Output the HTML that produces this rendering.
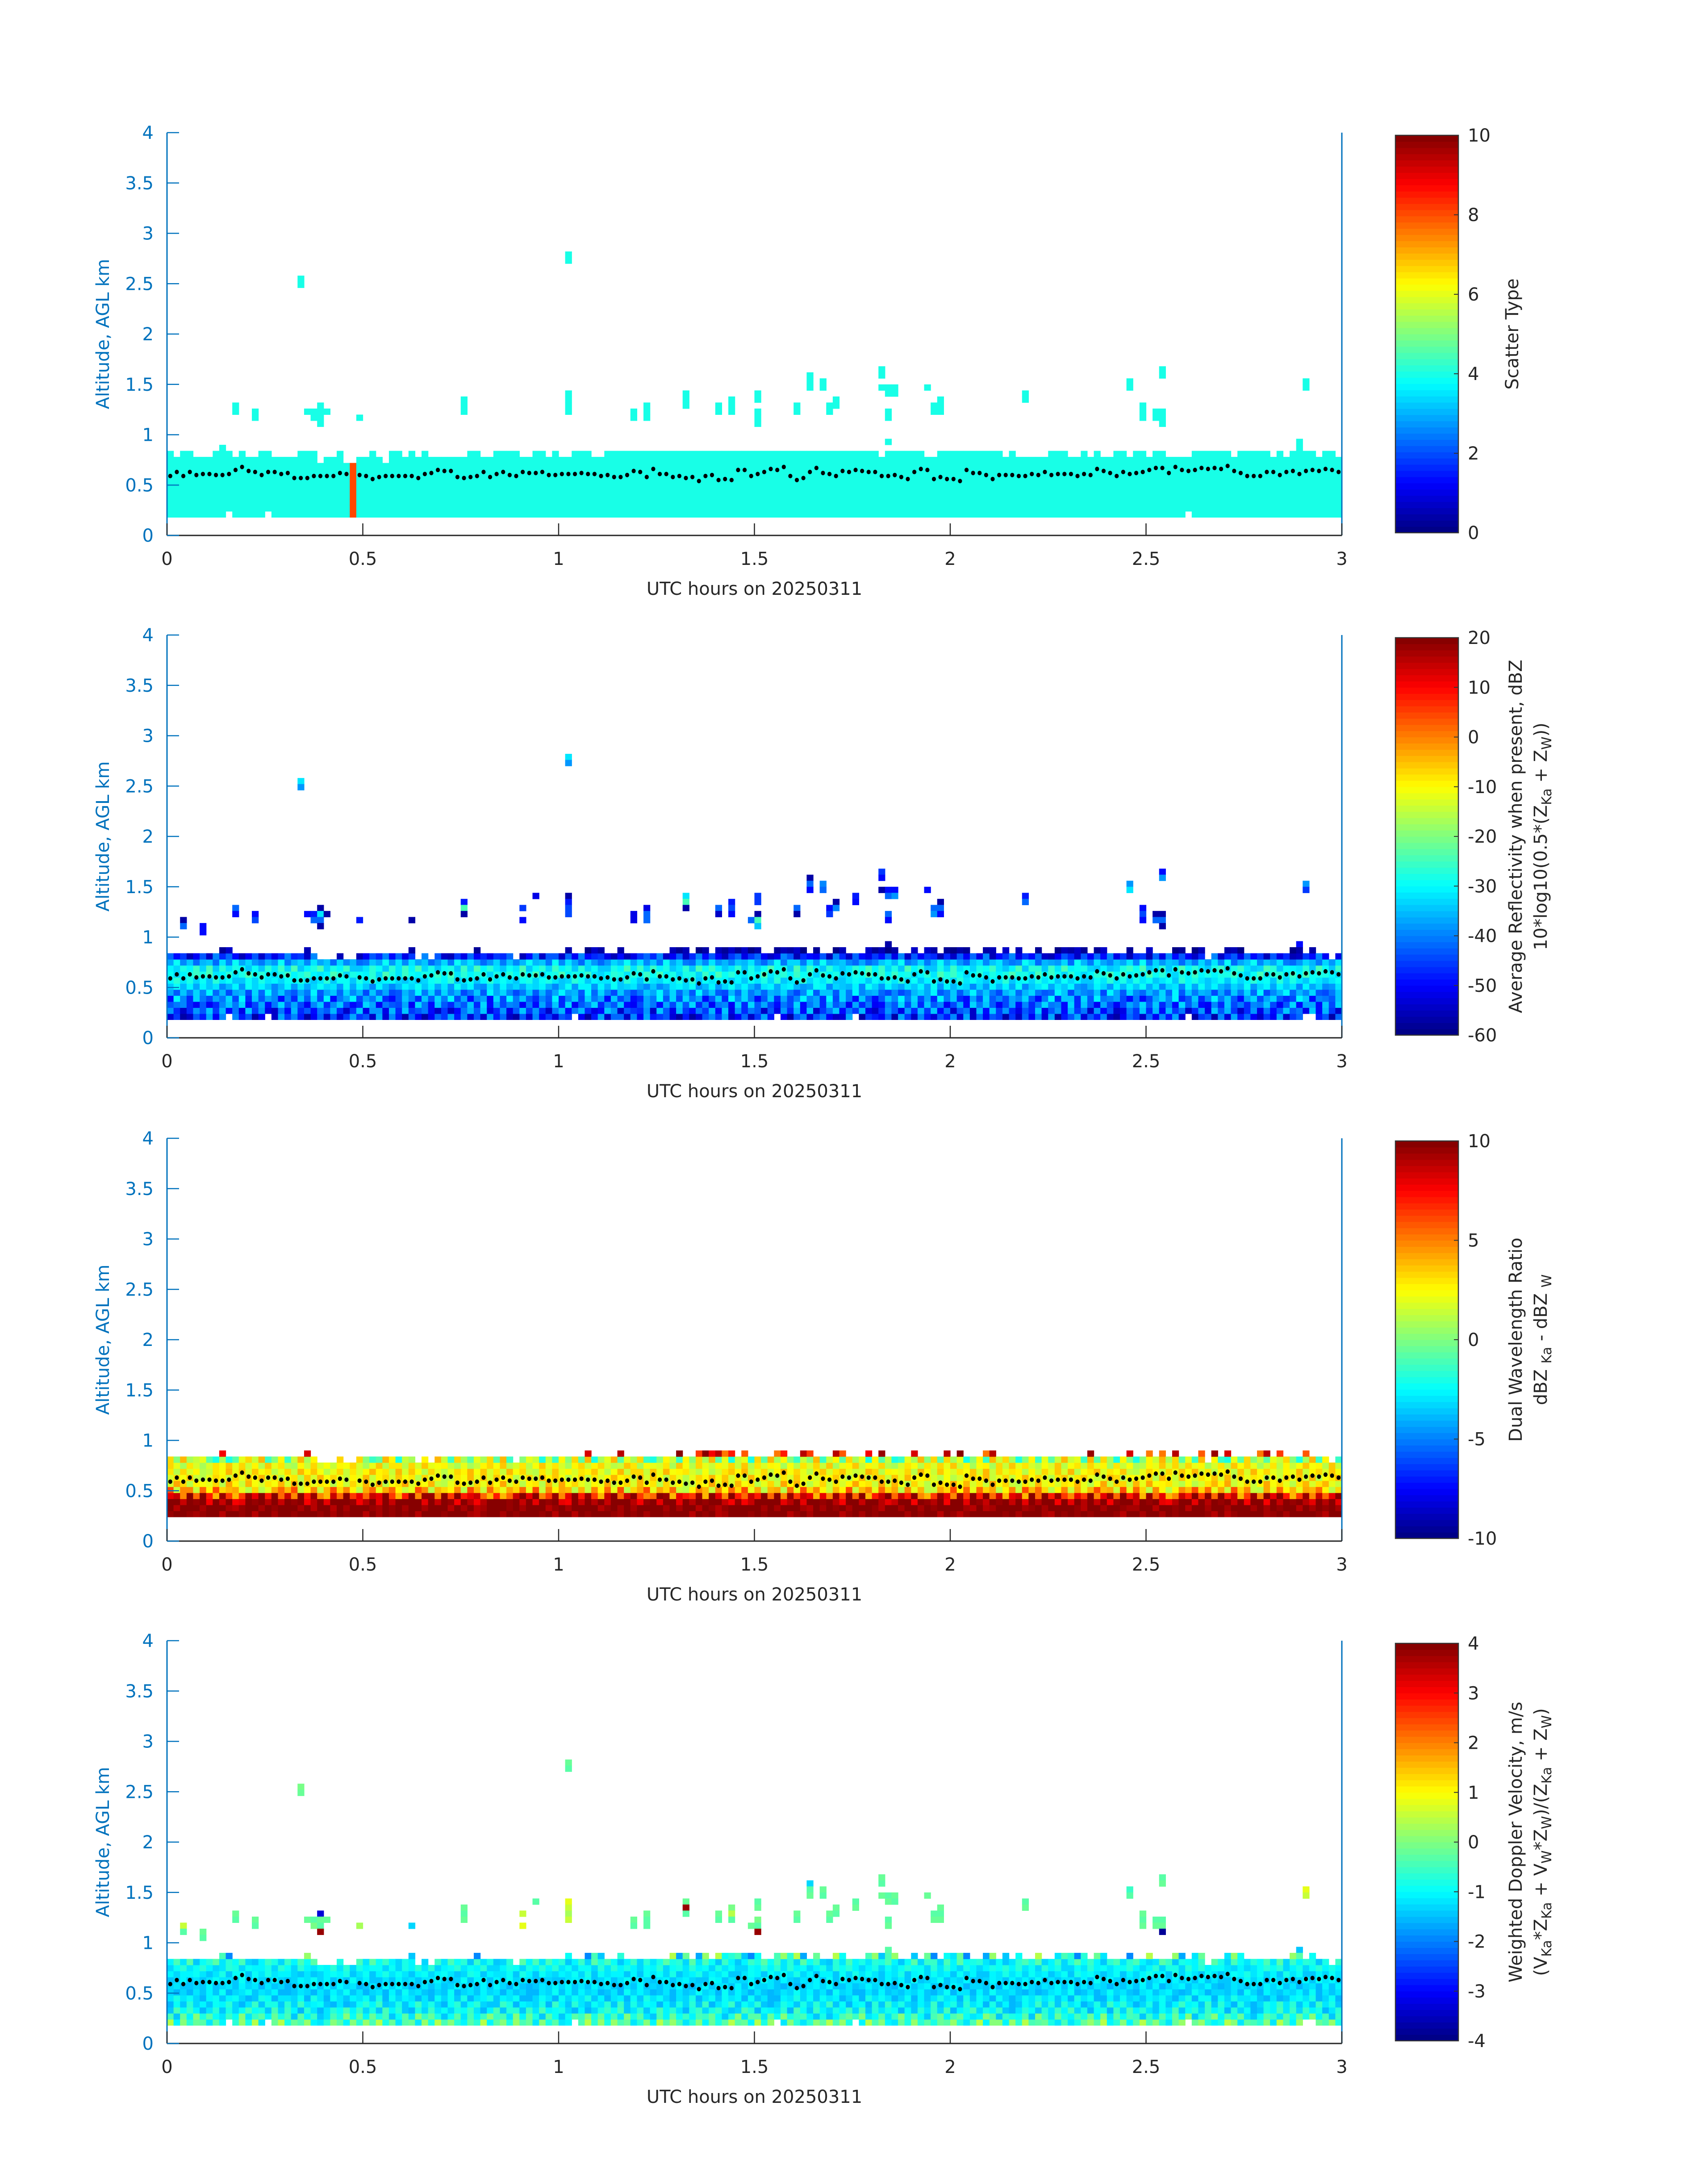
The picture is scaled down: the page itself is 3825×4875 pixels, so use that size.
<!DOCTYPE html>
<html><head><meta charset="utf-8"><style>
html,body{margin:0;padding:0;background:#fff;}
svg{display:block;font-family:"DejaVu Sans","Liberation Sans",sans-serif;}
</style></head><body>
<svg id="fig" xmlns="http://www.w3.org/2000/svg" width="3825" height="4875" viewBox="0 0 3825 4875">
<rect x="0" y="0" width="3825" height="4875" fill="#fff"/>
</svg>
<script>
// ---- data ----
const xTicks = [0, 0.5, 1, 1.5, 2, 2.5, 3];
const xTickLabels = ["0", "0.5", "1", "1.5", "2", "2.5", "3"];
const yTicks = [0, 0.5, 1, 1.5, 2, 2.5, 3, 3.5, 4];
const yTickLabels = ["0", "0.5", "1", "1.5", "2", "2.5", "3", "3.5", "4"];
const cbRanges = [[0, 10], [-60, 20], [-10, 10], [-4, 4]];
const cbTicks1 = [0, 2, 4, 6, 8, 10];
const cbTicks2 = [-60, -50, -40, -30, -20, -10, 0, 10, 20];
const cbTicks3 = [-10, -5, 0, 5, 10];
const cbTicks4 = [-4, -3, -2, -1, 0, 1, 2, 3, 4];
const nCols = 180;
const binHours = 3 / 180;
const binKm = 0.06;
const baseKm = 0.18;
const topScatter = "a9aa999aba9a99aa9999aaa899a8899a98aa9a9a999999aa99aaaa99aa9a99aaa99aaaaaaaaaaaaaaaaaaaaaaaaaaaaaaaaaaaaaaaaaa9aaaaaa99aaaaaaaaaa9a99999aaa99a9a99aa9aa9aa9999aaaaaa9aaaaa9a9aaaa9aa9a99aaaa";
const scatterNotchCols = [9, 15, 156];
const scatterType = 4;
const scatterSpecialCols = [28];
const scatterSpecialVal = [8];
const scatterExcludeCols = [2, 5, 37, 54, 56, 89, 105];
const extraTopCols = [8,9,21,37,47,61,64,65,66,69,77,78,79,81,82,84,85,86,87,88,89,90,93,94,95,96,97,99,102,103,107,108,109,110,111,114,116,117,119,120,121,122,125,126,128,130,133,136,137,138,139,140,142,143,147,150,154,155,157,158,162,163,164,172,175];
const dwrTopCols = [8,21,64,69,78,81,82,83,84,85,86,88,93,94,97,98,102,103,107,109,114,119,121,125,126,141,147,150,152,154,158,160,162,167,168,170,174];
const lowTopCols = [23,24,25,27,28,38,40,53,159,178];
const gapBottomCols = [9,15,62,93,105,156,174,175];
const noise = "4829173650517382904692648103751738492605608294731539157284607250164938284603719584037162595619284073037594826194710628352658304917718394562040268591371594730682683129705437095184260";
const profRefl = [-47,-44,-42,-40,-38,-34,-31,-29,-30,-36,-48,-57];
const ampRefl = [10,10,9,9,7,5,4,4,5,6,8,3];
const profDwr = [10,10,10,9.6,7.5,3.5,2.6,2.5,2.5,2.2,1.0,8];
const ampDwr = [1,1,1.2,2,3.5,2.5,1.5,1.5,1.5,1.5,3,3];
const profVel = [-0.4,-0.7,-1.0,-1.1,-1.2,-1.3,-1.3,-1.25,-1.15,-1.0,-0.9,-0.8];
const ampVel = [0.8,0.7,0.6,0.5,0.4,0.3,0.25,0.25,0.3,0.35,0.6,1.2];
const outlierCells = [
[2,16,-57,0.5],[2,15,-42,-0.3],[5,15,-50,-0.2],[5,14,-50,-0.3],[10,18,-42,-0.2],[10,17,-50,-0.3],
[13,17,-50,-0.2],[13,16,-44,-0.3],[20,39,-32,-0.1],[20,38,-38,-0.2],[21,17,-50,-0.2],[22,17,-48,-0.3],
[22,16,-42,-0.1],[23,18,-57,-3.3],[23,17,-32,-0.2],[23,16,-42,-0.3],[23,15,-57,3.8],[24,17,-57,-0.2],
[29,16,-48,0.3],[37,16,-57,-1.3],[45,19,-48,-0.2],[45,18,-25,-0.3],[45,17,-57,-0.2],[54,18,-46,0.6],
[54,16,-50,0.8],[56,20,-52,-0.3],[61,43,-32,-0.2],[61,42,-38,-0.3],[61,20,-57,0.8],[61,19,-48,0.5],
[61,18,-44,0.3],[61,17,-44,0.5],[71,17,-52,-0.2],[71,16,-52,-0.3],[73,18,-52,-0.2],[73,17,-42,-0.3],
[73,16,-42,-0.3],[79,20,-32,-0.2],[79,19,-25,3.8],[79,18,-57,-0.3],[84,18,-42,-0.2],[84,17,-55,-0.3],
[86,19,-48,-0.1],[86,18,-44,0.4],[86,17,-50,-0.3],[89,16,-42,-0.2],[90,20,-46,-0.3],[90,19,-46,-0.2],
[90,17,-57,-0.1],[90,16,-25,-0.3],[90,15,-35,3.8],[96,18,-42,-0.2],[96,17,-57,-0.3],[98,23,-57,-1.3],
[98,22,-42,-0.3],[98,21,-50,-0.2],[100,22,-40,-0.2],[100,21,-42,-0.3],[101,18,-50,-0.2],[101,17,-46,-0.3],
[102,19,-57,-0.2],[102,18,-40,-0.3],[105,20,-48,-0.3],[105,19,-50,-0.2],[109,24,-46,-0.2],[109,23,-50,-0.3],
[109,21,-57,-0.2],[110,21,-50,-0.3],[110,20,-42,-0.2],[110,17,-42,-0.3],[110,16,-50,-0.2],[110,12,-57,-0.3],
[111,21,-50,-0.2],[111,20,-38,-0.3],[116,21,-50,-0.2],[117,18,-42,-0.3],[117,17,-38,-0.2],[118,19,-57,-0.2],
[118,18,-42,-0.3],[118,17,-50,-0.2],[131,20,-48,-0.3],[131,19,-42,-0.2],[147,22,-38,-0.6],[147,21,-32,-0.3],
[149,18,-50,-0.2],[149,17,-44,-0.3],[149,16,-50,-0.2],[151,17,-57,-0.3],[151,16,-42,-0.2],[152,24,-50,-0.3],
[152,23,-38,-0.2],[152,17,-57,-0.3],[152,16,-42,-0.2],[152,15,-57,-3.8],[173,12,-50,-1.5],[173,11,-57,-0.3],
[174,22,-38,0.8],[174,21,-46,0.6]
];
const dotAlt = [
0.59,0.63,0.59,0.63,0.60,0.61,0.61,0.60,0.60,0.61,0.65,0.68,0.64,0.63,0.60,0.63,0.63,0.61,0.62,0.57,
0.57,0.57,0.59,0.59,0.59,0.59,0.62,0.61,null,
0.60,0.59,0.56,0.58,0.59,0.59,0.59,0.59,0.59,0.57,0.61,0.62,0.65,0.64,0.64,0.58,0.57,0.58,0.59,0.63,
0.58,0.61,0.63,0.60,0.59,0.63,0.62,0.62,0.63,0.60,0.60,0.61,0.61,0.61,0.62,0.61,0.61,0.59,0.60,0.58,
0.58,0.60,0.64,0.63,0.58,0.66,0.61,0.61,0.58,0.59,0.57,0.58,0.54,0.59,0.60,0.55,0.56,0.55,0.65,0.65,
0.59,0.61,0.63,0.66,0.65,0.68,0.59,0.55,0.57,0.63,0.67,0.62,0.61,0.59,0.64,0.63,0.65,0.64,0.63,0.63,
0.59,0.59,0.60,0.58,0.56,0.63,0.66,0.65,0.56,0.58,0.56,0.56,0.54,0.65,0.62,0.62,0.60,0.56,0.60,0.60,
0.60,0.59,0.59,0.61,0.60,0.63,0.60,0.61,0.61,0.61,0.59,0.61,0.60,0.66,0.64,0.62,0.59,0.63,0.61,0.62,
0.63,0.65,0.67,0.67,0.62,0.68,0.65,0.64,0.65,0.67,0.66,0.67,0.66,0.69,0.64,0.62,0.59,0.59,0.59,0.63,
0.63,0.60,0.63,0.64,0.61,0.64,0.65,0.64,0.66,0.65,0.63
];

// ---- layout ----
const NS = "http://www.w3.org/2000/svg";
const svg = document.getElementById("fig");
const X0 = 374, X1 = 3005, H = 902;
const bottoms = [1199, 2324, 3451, 4576];
const CBX0 = 3125, CBX1 = 3266;
const AX = "#0072BD", TXT = "#262626";
function xs(t){ return X0 + t / 3 * (X1 - X0); }
function ys(p, z){ return bottoms[p] - z / 4 * H; }
function mk(tag, attrs, parent){
  const e = document.createElementNS(NS, tag);
  for (const k in attrs) e.setAttribute(k, attrs[k]);
  (parent || svg).appendChild(e);
  return e;
}
function clamp(v){ return Math.max(0, Math.min(1, v)); }
function jet(x){
  x = clamp(x);
  const i = Math.min(63, Math.floor(x * 64));
  const q = (i + 0.5) / 64;
  const r = clamp(Math.min(4*q - 1.5, -4*q + 4.5));
  const g = clamp(Math.min(4*q - 0.5, -4*q + 3.5));
  const b = clamp(Math.min(4*q + 0.5, -4*q + 2.5));
  return "rgb(" + Math.round(r*255) + "," + Math.round(g*255) + "," + Math.round(b*255) + ")";
}
function colorFor(p, v){ const R = cbRanges[p]; return jet((v - R[0]) / (R[1] - R[0])); }
function topCode(ch){ return ({"8":8,"9":9,"a":10,"b":11})[ch]; }
function layerTop(c, p){
  if (p === 2) {
    if (dwrTopCols.indexOf(c) >= 0) return 11;
    if (lowTopCols.indexOf(c) >= 0) return 9;
    return 10;
  }
  if (extraTopCols.indexOf(c) >= 0) return 11;
  if (lowTopCols.indexOf(c) >= 0) return 9;
  return 10;
}
function nz(c, r, p){ return (parseInt(noise[(c + 37*r + 61*p) % 180], 10) - 4.5) / 4.5; }

function cell(g, p, c, r, v){
  const xa = xs(c * binHours), xb = xs((c + 1) * binHours);
  const za = baseKm + r * binKm, zb = za + binKm;
  const e = mk("rect", {x: xa.toFixed(2), y: ys(p, zb).toFixed(2), width: (xb - xa + 0.6).toFixed(2), height: (ys(p, za) - ys(p, zb) + 0.6).toFixed(2), fill: colorFor(p, v)}, g);
  
  
}

const cbTickSets = [cbTicks1, cbTicks2, cbTicks3, cbTicks4];
const cbTitles = [
  [["Scatter Type"]],
  [["Average Reflectivity when present, dBZ"], ["10*log10(0.5*(Z", ["Ka"], " + Z", ["W"], "))"]],
  [["Dual Wavelength Ratio"], ["dBZ ", ["Ka"], " - dBZ ", ["W"]]],
  [["Weighted Doppler Velocity, m/s"], ["(V", ["Ka"], "*Z", ["Ka"], " + V", ["W"], "*Z", ["W"], ")/(Z", ["Ka"], " + Z", ["W"], ")"]]
];

for (let p = 0; p < 4; p++) {
  const g = mk("g", {});
  
  
  const hm = mk("g", {}, g);
  
  
  for (let c = 0; c < nCols; c++) {
    if (p === 0) {
      const top = topCode(topScatter[c]);
      const bot = scatterNotchCols.indexOf(c) >= 0 ? 1 : 0;
      const si = scatterSpecialCols.indexOf(c);
      for (let r = bot; r <= top; r++) cell(hm, p, c, r, si >= 0 ? scatterSpecialVal[si] : scatterType);
    } else {
      const top = layerTop(c, p);
      let bot = gapBottomCols.indexOf(c) >= 0 ? 1 : 0;
      if (p === 2) bot = Math.max(bot, 1);
      for (let r = bot; r <= top; r++) {
        let v;
        if (p === 1) v = profRefl[r] + ampRefl[r] * nz(c, r, p);
        else if (p === 2) v = profDwr[r] + ampDwr[r] * nz(c, r, p);
        else v = profVel[r] + ampVel[r] * nz(c, r, p);
        cell(hm, p, c, r, v);
      }
    }
  }
  if (p !== 2) {
    for (const o of outlierCells) {
      if (p === 0 && scatterExcludeCols.indexOf(o[0]) >= 0) continue;
      const v = p === 0 ? scatterType : (p === 1 ? o[2] : o[3]);
      cell(hm, p, o[0], o[1], v);
    }
  }
  for (let c = 0; c < nCols; c++) {
    if (dotAlt[c] === null) continue;
    const d = mk("ellipse", {cx: xs((c + 0.5) * binHours).toFixed(2), cy: ys(p, dotAlt[c]).toFixed(2), rx: 4.6, ry: 5, fill: "#000"}, g);
    
    
  }
  const yb = bottoms[p], yt = bottoms[p] - H;
  const xl = mk("line", {x1: X0, y1: yb, x2: X1, y2: yb, stroke: TXT, "stroke-width": 3}, g);
  
  
  const yl = mk("line", {x1: X0, y1: yt, x2: X0, y2: yb, stroke: AX, "stroke-width": 3}, g);
  
  
  const yr = mk("line", {x1: X1, y1: yt, x2: X1, y2: yb, stroke: AX, "stroke-width": 3}, g);
  
  
  for (let i = 0; i < xTicks.length; i++) {
    const x = xs(xTicks[i]);
    const t = mk("line", {x1: x, y1: yb, x2: x, y2: yb - 27, stroke: TXT, "stroke-width": 2.5}, g);
    
    
    const l = mk("text", {x: x, y: yb + 66, "font-size": 40, fill: TXT, "text-anchor": "middle"}, g);
    l.textContent = xTickLabels[i];
    
    
  }
  for (let i = 0; i < yTicks.length; i++) {
    const y = ys(p, yTicks[i]);
    const t = mk("line", {x1: X0, y1: y, x2: X0 + 27, y2: y, stroke: AX, "stroke-width": 2.5}, g);
    
    
    const l = mk("text", {x: 344, y: y + 14, "font-size": 40, fill: AX, "text-anchor": "end"}, g);
    l.textContent = yTickLabels[i];
    
    
  }
  const xt = mk("text", {x: (X0 + X1) / 2, y: yb + 133, "font-size": 40, fill: TXT, "text-anchor": "middle"}, g);
  xt.textContent = "UTC hours on 20250311";
  
  
  const ymid = (yt + yb) / 2;
  const yT = mk("text", {x: 0, y: 0, "font-size": 40, fill: AX, "text-anchor": "middle", transform: "translate(244," + ymid + ") rotate(-90)"}, g);
  yT.textContent = "Altitude, AGL km";
  
  
  const cb = mk("g", {}, g);
  
  
  const ct = yt + 6, cbot = yb - 6, ch = cbot - ct;
  for (let i = 0; i < 64; i++) {
    const r = mk("rect", {x: CBX0, y: (cbot - (i + 1) * ch / 64).toFixed(2), width: CBX1 - CBX0, height: (ch / 64 + 0.6).toFixed(2), fill: jet((i + 0.5) / 64)}, cb);
    
    
  }
  const bd = mk("rect", {x: CBX0, y: ct, width: CBX1 - CBX0, height: ch, fill: "none", stroke: "#333", "stroke-width": 2.5}, cb);
  
  
  const R = cbRanges[p];
  for (const v of cbTickSets[p]) {
    const y = cbot - (v - R[0]) / (R[1] - R[0]) * ch;
    const t = mk("line", {x1: CBX1 - 10, y1: y, x2: CBX1, y2: y, stroke: "#333", "stroke-width": 2}, cb);
    
    
    const l = mk("text", {x: 3287, y: y + 14, "font-size": 40, fill: TXT}, cb);
    l.textContent = String(v);
    
    
  }
  const lines = cbTitles[p];
  const lx = lines.length === 1 ? [3386] : [3394, 3450];
  for (let li = 0; li < lines.length; li++) {
    const tx = mk("text", {x: 0, y: 0, "font-size": 40, fill: TXT, "text-anchor": "middle", transform: "translate(" + (lx[li] + 14) + "," + ((ct + cbot) / 2) + ") rotate(-90)"}, cb);
    
    
    for (const part of lines[li]) {
      const ts = document.createElementNS(NS, "tspan");
      if (Array.isArray(part)) {
        ts.textContent = part[0];
        ts.setAttribute("font-size", "30");
        ts.setAttribute("dy", "10");
      } else {
        ts.textContent = part;
        if (tx.lastChild && tx.lastChild.getAttribute("dy") === "10") ts.setAttribute("dy", "-10");
      }
      tx.appendChild(ts);
    }
  }
}
</script>
</body></html>
